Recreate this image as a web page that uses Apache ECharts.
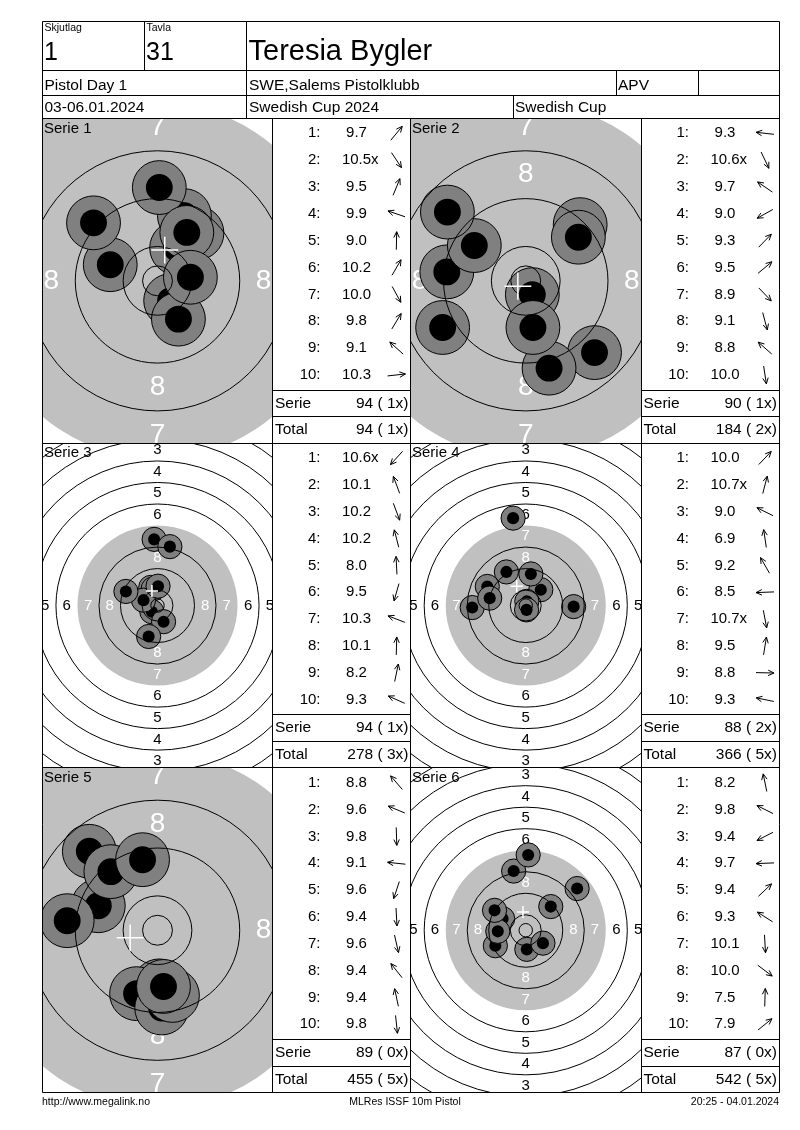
<!DOCTYPE html>
<html><head><meta charset="utf-8">
<script src="https://cdn.jsdelivr.net/npm/echarts@6/dist/echarts.min.js"></script>
<style>html,body{margin:0;padding:0;background:#fff}#c{width:800px;height:1130px}</style>
</head><body><div id="c"></div>
<script>
// ---------------- data ----------------
const relayLabel = 'Skjutlag', relayNo = '1';
const targetLabel = 'Tavla', targetNo = '31';
const shooterName = 'Teresia Bygler';
const eventName = 'Pistol Day 1';
const clubName = 'SWE,Salems Pistolklubb';
const classCode = 'APV';
const dates = '03-06.01.2024';
const competition = 'Swedish Cup 2024';
const cupName = 'Swedish Cup';
const footerLeft = 'http://www.megalink.no';
const footerMid = 'MLRes ISSF 10m Pistol';
const footerRight = '20:25 - 04.01.2024';

const serieNames = ['Serie 1', 'Serie 2', 'Serie 3', 'Serie 4', 'Serie 5', 'Serie 6'];
// shot positions in mm (x right, y up), read from the targets
const shotsX1 = [6.6, 2.2, 4.5, -7.9, 0.3, 3.2, 3.5, 4.9, -10.7, 5.5];
const shotsY1 = [8.0, -3.3, 10.9, 2.7, 15.6, 5.5, -6.4, 8.1, 9.7, 0.6];
const shotsX2 = [-13.2, 1.1, -8.6, -13.9, 9.1, 8.8, 11.5, 3.9, -13.1, 1.2];
const shotsY2 = [1.5, -2.3, 5.9, -7.8, 9.4, 7.3, -12.0, -14.6, 11.5, -7.8];
const shotsX3 = [-2.1, -2.5, 2.25, -1.6, -1.25, -3.3, -5.2, 0.2, 4.6, -11.75];
const shotsY3 = [-2.3, 6.75, -6.0, 6.2, 24.6, -11.5, 2.0, 7.2, 21.9, 5.25];
const shotsX4 = [5.6, 0.4, -14.3, -4.7, -7.2, -19.9, 0.3, 1.9, 17.8, -13.4];
const shotsY4 = [5.9, 1.55, 7.1, 32.5, 12.5, -0.75, -1.6, 11.75, -0.4, 2.75];
const shotsX5 = [-11.4, -9.9, 0.3, -15.1, -3.5, 0.7, 2.5, -7.8, -2.5, 1.0];
const shotsY5 = [13.2, 4.1, -9.3, 1.6, -10.6, -13.0, -10.9, 9.8, 11.8, -9.4];
const shotsX6 = [-4.5, -8.6, -11.3, -10.4, 9.3, -11.6, 0.4, 6.4, 0.9, 19.1];
const shotsY6 = [22.0, 4.3, -5.75, -0.4, 8.8, 7.4, -7.1, -4.8, 28.0, 15.5];

const scores1 = [9.7, 10.5, 9.5, 9.9, 9.0, 10.2, 10.0, 9.8, 9.1, 10.3];
const scores2 = [9.3, 10.6, 9.7, 9.0, 9.3, 9.5, 8.9, 9.1, 8.8, 10.0];
const scores3 = [10.6, 10.1, 10.2, 10.2, 8.0, 9.5, 10.3, 10.1, 8.2, 9.3];
const scores4 = [10.0, 10.7, 9.0, 6.9, 9.2, 8.5, 10.7, 9.5, 8.8, 9.3];
const scores5 = [8.8, 9.6, 9.8, 9.1, 9.6, 9.4, 9.6, 9.4, 9.4, 9.8];
const scores6 = [8.2, 9.8, 9.4, 9.7, 9.4, 9.3, 10.1, 10.0, 7.5, 7.9];

const inner1 = [0, 1, 0, 0, 0, 0, 0, 0, 0, 0];
const inner2 = [0, 1, 0, 0, 0, 0, 0, 0, 0, 0];
const inner3 = [1, 0, 0, 0, 0, 0, 0, 0, 0, 0];
const inner4 = [0, 1, 0, 0, 0, 0, 1, 0, 0, 0];
const inner5 = [0, 0, 0, 0, 0, 0, 0, 0, 0, 0];
const inner6 = [0, 0, 0, 0, 0, 0, 0, 0, 0, 0];

const serieTotals = [94, 90, 94, 88, 89, 87];
const serieX = [1, 1, 1, 2, 0, 0];
const runTotals = [94, 184, 278, 366, 455, 542];
const runX = [1, 2, 3, 5, 5, 5];
const zoomedOut = [false, false, true, true, false, true];

const ringNumbers = [1, 2, 3, 4, 5, 6, 7, 8];

const allX = [shotsX1, shotsX2, shotsX3, shotsX4, shotsX5, shotsX6];
const allY = [shotsY1, shotsY2, shotsY3, shotsY4, shotsY5, shotsY6];
const allScores = [scores1, scores2, scores3, scores4, scores5, scores6];
const allInner = [inner1, inner2, inner3, inner4, inner5, inner6];

// ---------------- target geometry (ISSF 10m air pistol, mm) ----------------
const ringR = n => 5.75 + (10 - n) * 8;
const AIM_R = ringR(7);
const INNER_TEN = 2.5;
const PELLET_R = 2.25;
const MARK_R = 4.5;
const ringList = [INNER_TEN, 10, 9, 8, 6, 5, 4, 3, 2, 1].map((n, i) => i === 0 ? n : ringR(n));

// ---------------- layout ----------------
const FONT = '"Liberation Sans", Arial, Helvetica, sans-serif';
const SCALE_IN = 5.98, SCALE_OUT = 2.69;
const cols = [{p: 42.5, pw: 230, t: 272.5, tw: 138}, {p: 410.5, pw: 230.5, t: 641, tw: 138.5}];
const rowTop = [118.5, 443.2, 767.9];
const rowH = 324.7;
const LEFT = 42.5, RIGHT = 779.5, TOP = 21, BOTTOM = 1092.6;

const snap = v => Math.round(v - 0.5) + 0.5;
const graphics = [];
function L(x1, y1, x2, y2) {
  graphics.push({type: 'line', z: 100, silent: true,
    shape: {x1: snap(x1), y1: snap(y1), x2: snap(x2), y2: snap(y2)},
    style: {stroke: '#000', lineWidth: 1}});
}
function T(text, x, y, size, align, color) {
  graphics.push({type: 'text', z: 100, silent: true, x: x, y: y,
    style: {text: text, fontSize: size, fontFamily: FONT, fill: color || '#000',
      textAlign: align || 'left', textVerticalAlign: 'middle'}});
}
const mctx = document.createElement('canvas').getContext('2d');
function textW(s, size) { mctx.font = size + 'px ' + FONT; return mctx.measureText(s).width; }

// frame + header
L(LEFT, TOP, RIGHT, TOP); L(LEFT, BOTTOM, RIGHT, BOTTOM);
L(LEFT, TOP, LEFT, BOTTOM); L(RIGHT, TOP, RIGHT, BOTTOM);
L(LEFT, 70, RIGHT, 70); L(LEFT, 95, RIGHT, 95); L(LEFT, 118.5, RIGHT, 118.5);
L(144, TOP, 144, 70); L(246.5, TOP, 246.5, 118.5);
L(616, 70, 616, 95); L(698, 70, 698, 95); L(513, 95, 513, 118.5);
L(272.5, 118.5, 272.5, BOTTOM); L(410.5, 118.5, 410.5, BOTTOM); L(641, 118.5, 641, BOTTOM);
L(LEFT, rowTop[1], RIGHT, rowTop[1]); L(LEFT, rowTop[2], RIGHT, rowTop[2]);

T(relayLabel, 44.5, 28, 10.5); T(targetLabel, 146.5, 28, 10.5);
T(relayNo, 44, 53, 25); T(targetNo, 146, 53, 25);
T(shooterName, 248.5, 52, 29);
T(eventName, 44.5, 86, 15.5); T(clubName, 249, 86, 15.5); T(classCode, 618, 86, 15.5);
T(dates, 44.5, 107.5, 15.5); T(competition, 249, 107.5, 15.5); T(cupName, 515, 107.5, 15.5);
T(footerLeft, 42, 1102, 10.5); T(footerMid, 405, 1102, 10.5, 'center'); T(footerRight, 779, 1102, 10.5, 'right');

// ---------------- charts per serie ----------------
const grids = [], xAxes = [], yAxes = [], series = [];

function arrow(cx, cy, dx, dy) {
  const len = Math.hypot(dx, dy) || 1;
  const ux = dx / len, uy = -dy / len;
  const H = 9, HL = 6.5, A = 25 * Math.PI / 180;
  const tx = cx + ux * H, ty = cy + uy * H;
  const bx = cx - ux * H, by = cy - uy * H;
  const ang = Math.atan2(uy, ux);
  const h1 = [tx - HL * Math.cos(ang - A), ty - HL * Math.sin(ang - A)];
  const h2 = [tx - HL * Math.cos(ang + A), ty - HL * Math.sin(ang + A)];
  graphics.push({type: 'line', z: 100, silent: true, shape: {x1: bx, y1: by, x2: tx, y2: ty},
    style: {stroke: '#000', lineWidth: 1}});
  graphics.push({type: 'polyline', z: 100, silent: true, shape: {points: [h1, [tx, ty], h2]},
    style: {stroke: '#000', lineWidth: 1, fill: 'none'}});
}

for (let i = 0; i < 6; i++) {
  const col = cols[i % 2], top = rowTop[Math.floor(i / 2)];
  const out = zoomedOut[i];
  const s = out ? SCALE_OUT : SCALE_IN;
  grids.push({left: col.p, top: top, width: col.pw, height: rowH, containLabel: false});
  xAxes.push({gridIndex: i, type: 'value', show: false, min: -col.pw / 2 / s, max: col.pw / 2 / s});
  yAxes.push({gridIndex: i, type: 'value', show: false, min: -rowH / 2 / s, max: rowH / 2 / s});

  const xs = allX[i], ys = allY[i];
  const base = {type: 'custom', coordinateSystem: 'cartesian2d', xAxisIndex: i, yAxisIndex: i,
    clip: true, silent: true, animation: false};
  const rad = (api, r) => api.size([r, 0])[0];

  // aiming mark
  series.push(Object.assign({}, base, {z: 1, data: [[0, 0]], renderItem: (params, api) => {
    const c = api.coord([0, 0]);
    const ch = [{type: 'circle', shape: {cx: c[0], cy: c[1], r: rad(api, AIM_R)}, style: {fill: '#c0c0c0'}}];
    if (!out) {
      const cs = params.coordSys;
      ch.push({type: 'rect', shape: {x: cs.x, y: cs.y, width: 56, height: 27}, style: {fill: '#c0c0c0'}});
    }
    return {type: 'group', children: ch};
  }}));
  // ring numbers
  const lab = [], labTxt = [];
  ringNumbers.forEach(n => {
    const r = ringR(n) - 4;
    [[0, r], [0, -r], [r, 0], [-r, 0]].forEach(p => { lab.push(p); labTxt.push(n); });
  });
  const fsz = out ? 15 : 28;
  series.push(Object.assign({}, base, {z: 2, data: lab, renderItem: (params, api) => {
    const c = api.coord([api.value(0), api.value(1)]);
    const n = labTxt[params.dataIndex];
    return {type: 'text', x: c[0], y: c[1], style: {text: String(n), fontSize: fsz, fontFamily: FONT,
      fill: n >= 7 ? '#ffffff' : '#000000', textAlign: 'center', textVerticalAlign: 'middle'}};
  }}));
  // shots
  series.push(Object.assign({}, base, {z: 3, data: xs.map((x, k) => [x, ys[k]]), renderItem: (params, api) => {
    const c = api.coord([api.value(0), api.value(1)]);
    return {type: 'group', children: [
      {type: 'circle', shape: {cx: c[0], cy: c[1], r: rad(api, MARK_R)}, style: {fill: '#808080', stroke: '#000', lineWidth: 1}},
      {type: 'circle', shape: {cx: c[0], cy: c[1], r: rad(api, PELLET_R)}, style: {fill: '#000'}}
    ]};
  }}));
  // rings
  series.push(Object.assign({}, base, {z: 4, data: ringList.map(r => [0, 0, r]), renderItem: (params, api) => {
    const c = api.coord([0, 0]);
    return {type: 'circle', shape: {cx: c[0], cy: c[1], r: rad(api, api.value(2))},
      style: {fill: 'none', stroke: '#000', lineWidth: 1}};
  }}));
  // mean point of impact
  const mx = xs.reduce((a, b) => a + b, 0) / xs.length;
  const my = ys.reduce((a, b) => a + b, 0) / ys.length;
  series.push(Object.assign({}, base, {z: 5, data: [[mx, my]], renderItem: (params, api) => {
    const c = api.coord([api.value(0), api.value(1)]);
    const h = rad(api, PELLET_R);
    return {type: 'group', children: [
      {type: 'line', shape: {x1: c[0] - h, y1: c[1], x2: c[0] + h, y2: c[1]}, style: {stroke: '#fff', lineWidth: 1.5}},
      {type: 'line', shape: {x1: c[0], y1: c[1] - h, x2: c[0], y2: c[1] + h}, style: {stroke: '#fff', lineWidth: 1.5}}
    ]};
  }}));

  // serie title
  T(serieNames[i], col.p + 1.5, top + 10, 15);

  // score table
  const tl = col.t;
  const sc = allScores[i], inn = allInner[i];
  for (let k = 0; k < 10; k++) {
    const y = top + 14.8 + k * 26.85;
    T((k + 1) + ':', tl + 48, y, 15, 'right');
    const str = sc[k].toFixed(1);
    const w = textW(str, 15);
    T(str + (inn[k] ? 'x' : ''), tl + 84 - w / 2, y, 15, 'left');
    arrow(tl + 124, y, xs[k], ys[k]);
  }
  L(tl, top + 271.5, tl + col.tw, top + 271.5);
  L(tl, top + 298.2, tl + col.tw, top + 298.2);
  T('Serie', tl + 2.5, top + 285, 15.5);
  T(serieTotals[i] + ' ( ' + serieX[i] + 'x)', tl + 136, top + 285, 15.5, 'right');
  T('Total', tl + 2.5, top + 311.5, 15.5);
  T(runTotals[i] + ' ( ' + runX[i] + 'x)', tl + 136, top + 311.5, 15.5, 'right');
}

const chart = echarts.init(document.getElementById('c'), null, {renderer: 'canvas', width: 800, height: 1130});
chart.setOption({
  animation: false,
  backgroundColor: '#ffffff',
  grid: grids, xAxis: xAxes, yAxis: yAxes,
  series: series,
  graphic: {elements: graphics}
});
</script>
</body></html>
